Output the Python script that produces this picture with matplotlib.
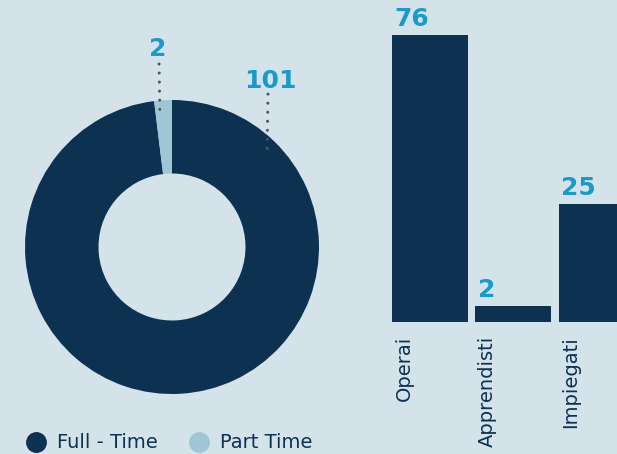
import matplotlib
matplotlib.use("Agg")
import matplotlib.pyplot as plt
import numpy as np
from matplotlib.lines import Line2D

# ---- data ----
donut_labels = ["Full - Time", "Part Time"]
donut_values = [101, 2]
bar_categories = ["Operai", "Apprendisti", "Impiegati"]
bar_values = [76, 2, 25]

BG = "#d4e3e9"
NAVY = "#0c3151"
LIGHT = "#9ec6d4"
CYAN = "#179bcc"
DOT = "#50555c"

W, H = 617, 454
fig = plt.figure(figsize=(W / 100, H / 100), dpi=100, facecolor=BG)

def px_axes(left, top, right, bottom):
    return fig.add_axes([left / W, 1 - bottom / H, (right - left) / W, (bottom - top) / H])

# ---- donut ----
cx, cy, r = 172, 247, 147
axd = px_axes(cx - r, cy - r, cx + r, cy + r)
axd.set_facecolor("none")
axd.pie(donut_values, colors=[NAVY, LIGHT], startangle=90, counterclock=False,
        radius=1.0, wedgeprops=dict(width=0.5, edgecolor="none"))
axd.set_xlim(-1, 1)
axd.set_ylim(-1, 1)
axd.set_aspect("equal")
axd.axis("off")

dots = (0, (0.01, 2.95))
# labels with dotted leaders
axd.plot([-0.088, -0.082], [1.245, 0.88], linestyle=dots, color=DOT,
         lw=2.2, dash_capstyle="round", clip_on=False)
axd.text(-0.095, 1.30, str(donut_values[1]), color=CYAN, fontsize=18, fontweight="bold",
         ha="center", va="baseline")
axd.plot([0.653, 0.646], [1.04, 0.62], linestyle=dots, color=DOT,
         lw=2.2, dash_capstyle="round", clip_on=False)
axd.text(0.667, 1.082, str(donut_values[0]), color=CYAN, fontsize=18, fontweight="bold",
         ha="center", va="baseline")

# legend
handles = [Line2D([], [], marker="o", linestyle="none", markersize=14, color=c)
           for c in [NAVY, LIGHT]]
fig.legend(handles, donut_labels, loc="center left", bbox_to_anchor=(17 / W, 1 - 443 / H),
           ncol=2, frameon=False, fontsize=14, labelcolor=NAVY, handletextpad=0.45,
           columnspacing=1.55, handlelength=1.2, borderaxespad=0)

# ---- bars ----
axb = px_axes(388, 8, 617, 322)
axb.set_facecolor("none")
p = 0.8
axb.set_yscale("function", functions=(lambda v: np.power(np.clip(v, 0, None), p),
                                      lambda v: np.power(np.clip(v, 0, None), 1 / p)))
x = np.arange(len(bar_categories))
bw = 0.91
axb.bar(x, bar_values, width=bw, color=NAVY)
axb.set_xlim(-0.503, 2.240)
axb.set_ylim(0, 85.1)
for xi, v in zip(x, bar_values):
    axb.annotate(str(v), (xi - bw / 2, v), xytext=(1.5, 3), textcoords="offset points",
                 color=CYAN, fontsize=18, fontweight="bold", ha="left", va="bottom",
                 annotation_clip=False)
axb.set_xticks(x - 0.31)
axb.set_xticklabels(bar_categories, rotation=90, fontsize=14, color=NAVY)
axb.tick_params(axis="x", length=0, pad=10)
axb.set_yticks([])
axb.yaxis.set_minor_locator(matplotlib.ticker.NullLocator())
for s in axb.spines.values():
    s.set_visible(False)

fig.savefig("out.png", dpi=100, facecolor=BG)
